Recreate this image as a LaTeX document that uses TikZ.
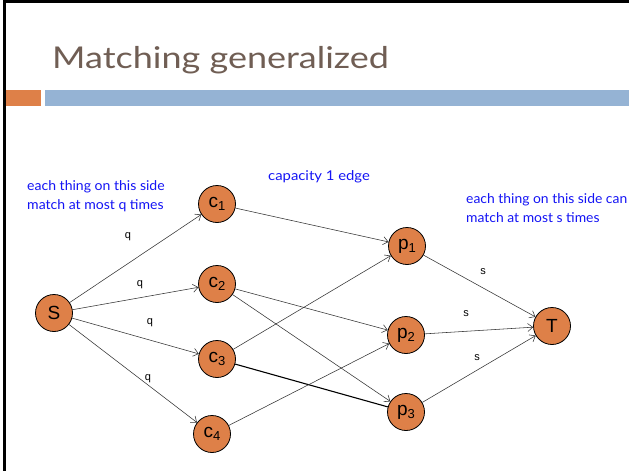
\documentclass[tikz,border=0pt]{standalone}
\usepackage{fontspec}
\setmainfont{Liberation Sans}
\newfontfamily\slidefont{Lato}
\usetikzlibrary{arrows.meta}
\definecolor{titlebrown}{RGB}{112,94,84}
\definecolor{accentorange}{RGB}{222,128,72}
\definecolor{barblue}{RGB}{149,179,212}
\definecolor{nodeorange}{RGB}{222,128,72}
\definecolor{notblue}{RGB}{20,20,245}
\newcommand\lowidx[1]{{\fontsize{13}{13}\selectfont\raisebox{-3pt}{#1}}}
\newcommand\wideset[2]{\scalebox{#1}[1]{#2}}
\tikzset{
  vertex/.style={circle, draw=black, line width=0.8pt, fill=nodeorange,
    minimum size=37pt, inner sep=0pt, font=\fontsize{19}{19}\selectfont},
  flow/.style={draw=black!80, line width=0.55pt,
    -{Straight Barb[length=5pt,width=8pt,line width=0.55pt]}},
  plainflow/.style={draw=black, line width=1.1pt},
  caplabel/.style={font=\fontsize{11}{11}\selectfont, inner sep=0pt},
  note/.style={font=\slidefont\fontsize{13.5}{18.5}\selectfont, text=notblue,
    anchor=west, inner sep=0pt, align=left}
}
\begin{document}
\begin{tikzpicture}[x=1pt,y=-1pt]
\useasboundingbox (0,0) rectangle (629,471);
% slide frame
\fill[white] (0,0) rectangle (629,471);
\draw[black, line width=3pt] (4.5,471) -- (4.5,1.5) -- (629,1.5);
% title and header bars
\node[anchor=base west, inner sep=0pt, text=titlebrown,
  font=\slidefont\fontsize{30}{30}\selectfont] (title) at (52,68)
  {\wideset{1.2}{Matching generalized}};
\fill[accentorange] (6,90) rectangle (41,106);
\fill[barblue] (45,90) rectangle (629,106);
% notes
\node[note] (leftnote) at (27,196)
  {\wideset{1.04}{each thing on this side}\\\wideset{1.04}{match at most q times}};
\node[note] (midnote) at (268,177) {\wideset{1.1}{capacity 1 edge}};
\node[note] (rightnote) at (466,208)
  {\wideset{1.03}{each thing on this side can}\\\wideset{1.03}{match at most s times}};
% vertices
\node[vertex] (S) at (54,313) {S};
\node[vertex] (c1) at (217,204) {c\lowidx{1}};
\node[vertex] (c2) at (217,284) {c\lowidx{2}};
\node[vertex] (c3) at (217,359) {c\lowidx{3}};
\node[vertex] (c4) at (212,434) {c\lowidx{4}};
\node[vertex] (p1) at (407,246) {p\lowidx{1}};
\node[vertex] (p2) at (406,335) {p\lowidx{2}};
\node[vertex] (p3) at (406,412) {p\lowidx{3}};
\node[vertex] (T) at (552,326) {T};
% source edges
\draw[flow] (S) -- (c1);
\draw[flow] (S) -- (c2);
\draw[flow] (S) -- (c3);
\draw[flow] (S) -- (c4);
% middle edges
\draw[flow] (c1) -- (p1);
\draw[flow] (c2) -- (p2);
\draw[flow] (c2) -- (p3);
\draw[flow] (c3) -- (p1);
\draw[plainflow] (c3) -- (p3);
\draw[flow] (c4) -- (p2);
% sink edges
\draw[flow] (p1) -- (T);
\draw[flow] (p2) -- (T);
\draw[flow] (p3) -- (T);
% capacities
\node[caplabel] (q1) at (128,237) {q};
\node[caplabel] (q2) at (140,285) {q};
\node[caplabel] (q3) at (150,323) {q};
\node[caplabel] (q4) at (148,379) {q};
\node[caplabel] (s1) at (483,272) {s};
\node[caplabel] (s2) at (466,314) {s};
\node[caplabel] (s3) at (477,358) {s};
\end{tikzpicture}
\end{document}
